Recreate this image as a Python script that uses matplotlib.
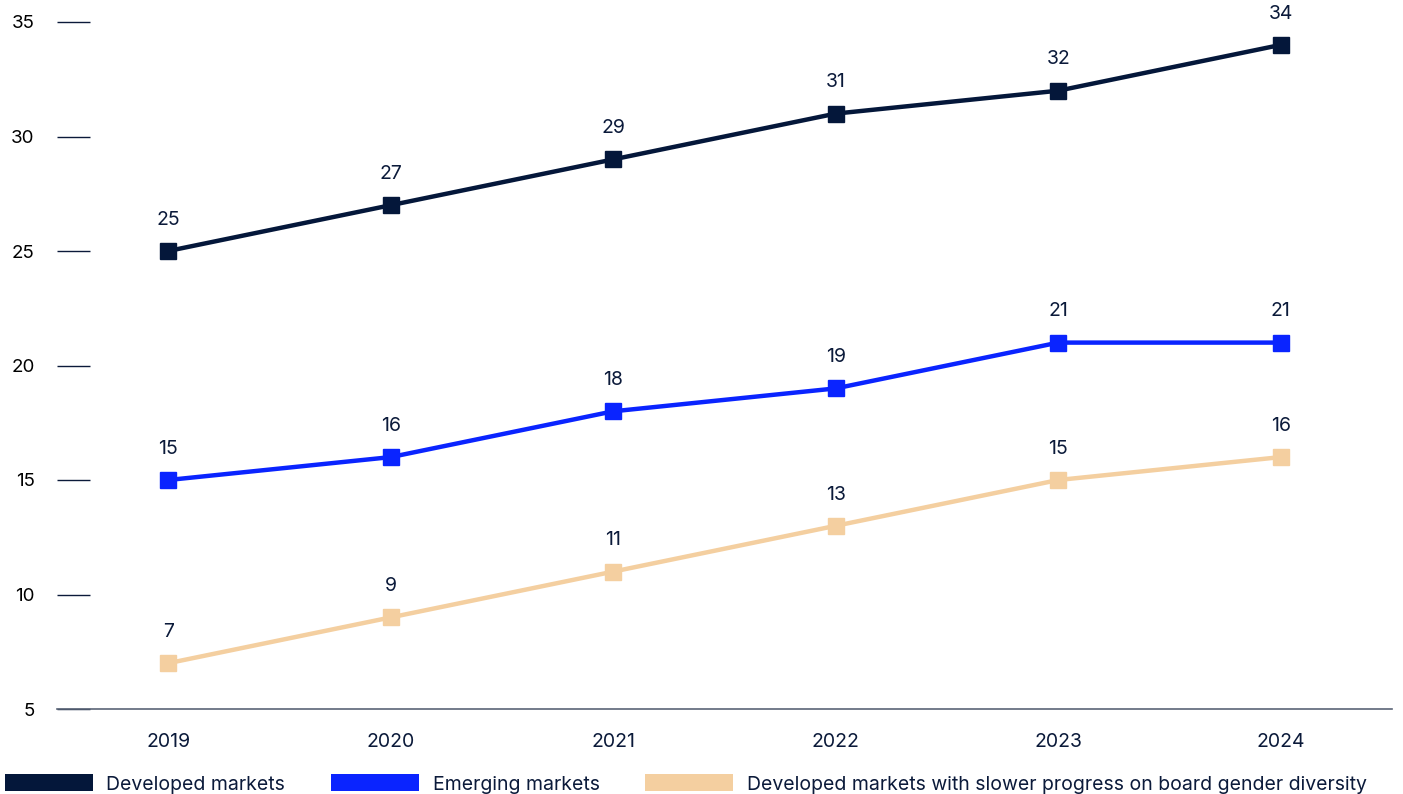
import matplotlib.pyplot as plt
from matplotlib.patches import Patch

plt.rcParams['font.family'] = ['Inter', 'DejaVu Sans']

years = ["2019", "2020", "2021", "2022", "2023", "2024"]
developed = [25, 27, 29, 31, 32, 34]
emerging = [15, 16, 18, 19, 21, 21]
slower = [7, 9, 11, 13, 15, 16]
series_names = ["Developed markets", "Emerging markets",
                "Developed markets with slower progress on board gender diversity"]
colors = ["#04173a", "#0a24ff", "#f4cfa0"]
text_color = "#0b1a3a"

fig = plt.figure(figsize=(14.03, 7.94), dpi=100)
ax = fig.add_axes([57 / 1403, 1 - 709 / 794, (1392 - 57) / 1403, (709 - 22) / 794])

x = list(range(len(years)))
for vals, c in zip([developed, emerging, slower], colors):
    ax.plot(x, vals, color=c, lw=3.2, marker='s', markersize=12, zorder=3)
    for xi, v in zip(x, vals):
        ax.annotate(str(v), (xi, v), xytext=(0, 16), textcoords='offset points',
                    ha='center', va='bottom', fontsize=14, color=text_color)

ax.set_xlim(-0.5, 5.5)
ax.set_ylim(5, 35)
ax.set_yticks([5, 10, 15, 20, 25, 30, 35])
ax.set_xticks(x)
ax.set_xticklabels(years)
ax.tick_params(axis='y', direction='in', length=24, width=1, color=text_color,
               pad=16, labelsize=13.5, labelcolor='black')
ax.tick_params(axis='x', length=0, pad=17, labelsize=14, labelcolor=text_color)
for s in ['top', 'right', 'left']:
    ax.spines[s].set_visible(False)
ax.spines['bottom'].set_color('#5b6577')
ax.spines['bottom'].set_linewidth(1.2)

handles = [Patch(facecolor=c, edgecolor='none') for c in colors]
fig.legend(handles, series_names, loc='center left', bbox_to_anchor=(5 / 1403, 10 / 794),
           ncol=3, frameon=False, fontsize=14, handlelength=4.5, handleheight=0.95,
           handletextpad=0.72, columnspacing=2.35, borderpad=0, borderaxespad=0,
           labelcolor=text_color)

fig.savefig('out.png', dpi=100)
